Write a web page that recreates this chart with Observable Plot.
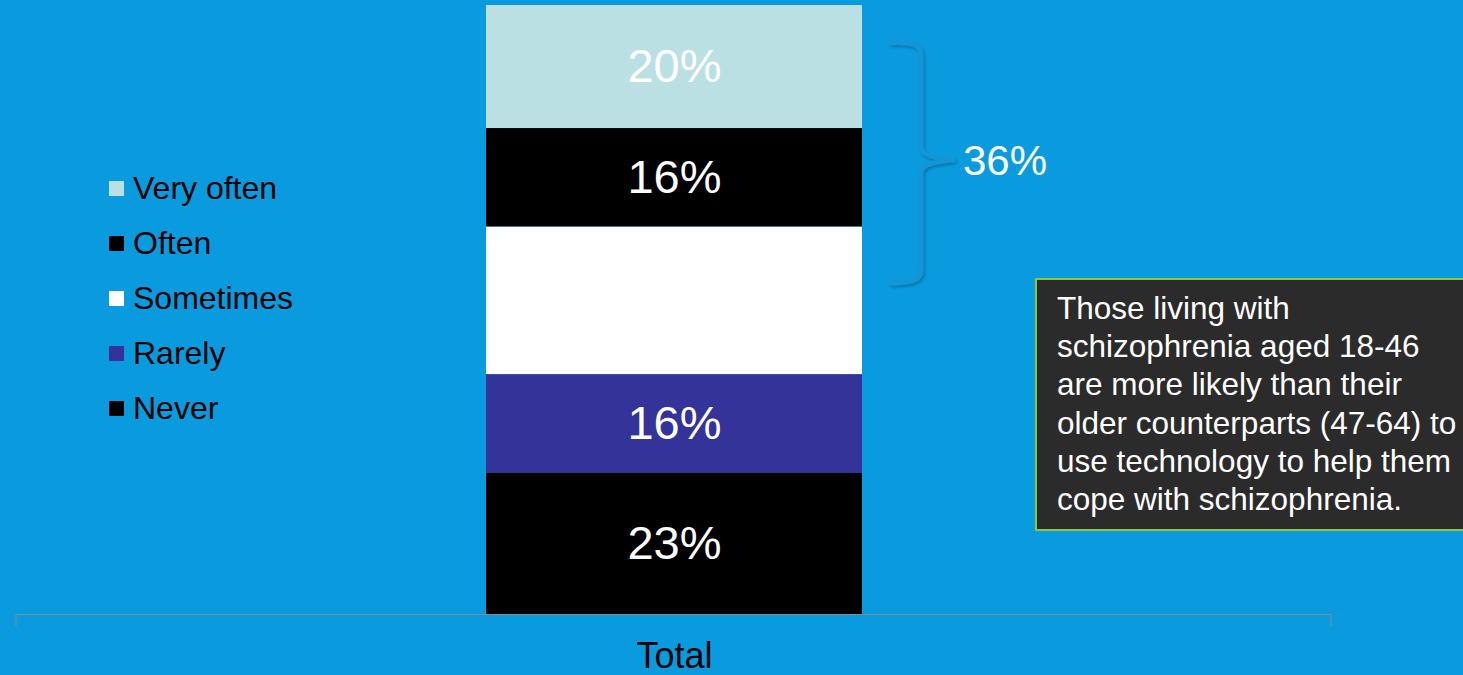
<!DOCTYPE html>
<html>
<head>
<meta charset="utf-8">
<script src="https://cdn.jsdelivr.net/npm/d3@7"></script>
<script src="https://cdn.jsdelivr.net/npm/@observablehq/plot@0.6"></script>
<style>
  html, body { margin: 0; padding: 0; background: #0a9bdf; overflow: hidden; }
  #wrap { position: relative; width: 1463px; height: 675px; font-family: "Liberation Sans", Arial, sans-serif; }
  #chart svg { display: block; }
  #legend { position: absolute; left: 109px; top: 161px; }
  .row { height: 55px; display: flex; align-items: center; font-size: 32px; color: #000; }
  .sw { width: 15px; height: 15px; margin-right: 9px; }
  #note { position: absolute; left: 1035px; top: 278px;
          background: #2b2b2b; border: 2px solid #8dc63f; color: #fff; font-size: 31.5px; line-height: 38.2px;
          padding: 9px 0 0 20px; box-sizing: border-box; height: 253px; width: 460px; }
  #overlay { position: absolute; left: 0; top: 0; pointer-events: none; }
</style>
</head>
<body>
<div id="wrap">
  <div id="chart"></div>
  <div id="legend"></div>
  <div id="note"></div>
  <svg id="overlay" width="1463" height="675"></svg>
</div>
<script>
const categories = ["Never", "Rarely", "Sometimes", "Often", "Very often"];
const values = [23, 16, 24, 16, 20];
const labels = ["23%", "16%", "", "16%", "20%"];
const colors = ["#000000", "#333399", "#ffffff", "#000000", "#bbe0e3"];
const barCategory = ["Total"];
const legendOrder = ["Very often", "Often", "Sometimes", "Rarely", "Never"];
const bracketLabel = "36%";
const noteLines = [
  "Those living with",
  "schizophrenia aged 18-46",
  "are more likely than their",
  "older counterparts (47-64) to",
  "use technology to help them",
  "cope with schizophrenia."
];

const data = categories.map((c, i) => ({ total: barCategory[0], cat: c, value: values[i], label: labels[i] }));
const total = d3.sum(values);

const endTicks = (index, scales, vals, dims) => {
  const g = d3.create("svg:g");
  const y0 = scales.y(0);
  [dims.marginLeft, dims.width - dims.marginRight].forEach(x => {
    g.append("line").attr("x1", x).attr("x2", x).attr("y1", y0).attr("y2", y0 + 12)
      .attr("stroke", "#8a8a8a").attr("stroke-width", 1);
  });
  return g.node();
};

const chart = Plot.plot({
  width: 1463,
  height: 675,
  marginLeft: 16,
  marginRight: 132,
  marginTop: 5,
  marginBottom: 61,
  style: { background: "transparent", fontFamily: "Liberation Sans, Arial, sans-serif", overflow: "visible" },
  x: { domain: barCategory, padding: 0.5553, axis: null },
  y: { domain: [0, total], axis: null },
  color: { domain: categories, range: colors },
  marks: [
    Plot.barY(data, { x: "total", y: "value", fill: "cat" }),
    Plot.text(data, Plot.stackY({ x: "total", y: "value", text: "label", fill: "white", fontSize: 47 })),
    Plot.ruleY([0], { stroke: "#8a8a8a", strokeWidth: 1.2 }),
    endTicks,
    Plot.axisX({ tickSize: 0, tickPadding: 28, fontSize: 36, fill: "black", label: null })
  ]
});
document.getElementById("chart").appendChild(chart);

// legend
const legend = d3.select("#legend");
legendOrder.forEach(c => {
  const row = legend.append("div").attr("class", "row");
  row.append("div").attr("class", "sw").style("background", colors[categories.indexOf(c)]);
  row.append("span").text(c);
});

// note box
d3.select("#note").html(noteLines.map(l => `<div>${l}</div>`).join(""));

// bracket annotation
const ov = d3.select("#overlay");
const defs = ov.append("defs");
const f = defs.append("filter").attr("id", "sh").attr("x", "-50%").attr("y", "-10%").attr("width", "200%").attr("height", "120%");
f.append("feDropShadow").attr("dx", 1.5).attr("dy", 2).attr("stdDeviation", 1.5).attr("flood-color", "#000").attr("flood-opacity", 0.25);
ov.append("path")
  .attr("d", "M 891 43 Q 921 41 921 54 L 921 147 Q 921 158 955 160 Q 921 162 921 173 L 921 271 Q 921 284 891 283")
  .attr("fill", "none").attr("stroke", "#1595d6").attr("stroke-width", 4.5).attr("stroke-linecap", "round")
  .attr("filter", "url(#sh)");
ov.append("text").attr("x", 963).attr("y", 160).attr("dy", "0.36em")
  .attr("fill", "white").attr("font-size", 42).attr("font-family", "Liberation Sans, Arial, sans-serif")
  .text(bracketLabel);
</script>
</body>
</html>
